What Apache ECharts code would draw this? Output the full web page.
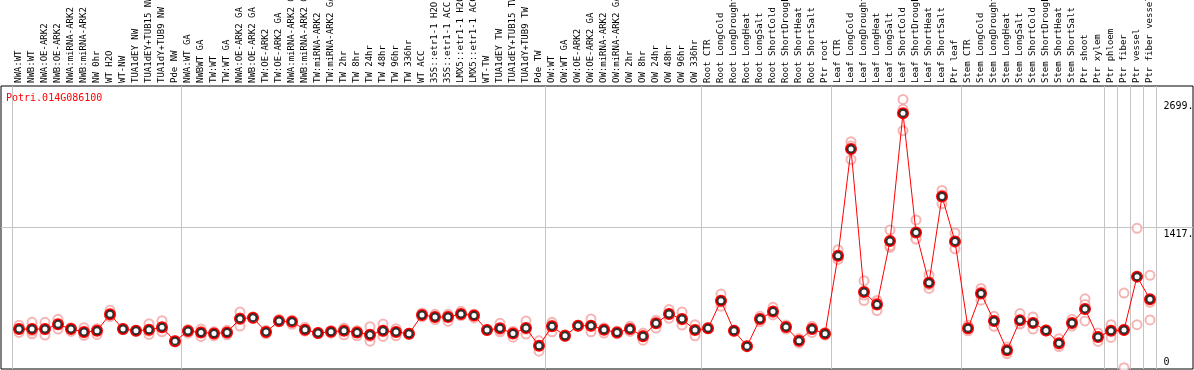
<!DOCTYPE html>
<html lang="en">
<head>
<meta charset="UTF-8">
<title>Potri.014G086100</title>
<style>
  html, body { margin: 0; padding: 0; background: #fff; }
  #chart { width: 1194px; height: 370px; }
</style>
</head>
<body>
<div id="chart"></div>
<script src="https://cdn.jsdelivr.net/npm/echarts@6/dist/echarts.min.js"></script>
<script>
  var geneName = 'Potri.014G086100'

  // sample names, in plot order
  var categories = [
    'NWA:WT', 'NWB:WT', 'NWA:OE-ARK2', 'NWB:OE-ARK2', 'NWA:miRNA-ARK2', 'NWB:miRNA-ARK2',
    'NW 0hr', 'WT H2O', 'WT-NW', 'TUA1dEY NW', 'TUA1dEY+TUB15 NW', 'TUA1dY+TUB9 NW', 'Pde NW',
    'NWA:WT GA', 'NWBWT GA', 'TW:WT', 'TW:WT GA', 'NWA:OE-ARK2 GA', 'NWB:OE-ARK2 GA',
    'TW:OE-ARK2', 'TW:OE-ARK2 GA', 'NWA:miRNA-ARK2 GA', 'NWB:miRNA-ARK2 GA', 'TW:miRNA-ARK2',
    'TW:miRNA-ARK2 GA', 'TW 2hr', 'TW 8hr', 'TW 24hr', 'TW 48hr', 'TW 96hr', 'TW 336hr',
    'WT ACC', '35S::etr1-1 H2O', '35S::etr1-1 ACC', 'LMX5::etr1-1 H2O', 'LMX5::etr1-1 ACC',
    'WT-TW', 'TUA1dEY TW', 'TUA1dEY+TUB15 TW', 'TUA1dY+TUB9 TW', 'Pde TW',
    'OW:WT', 'OW:WT GA', 'OW:OE-ARK2', 'OW:OE-ARK2 GA', 'OW:miRNA-ARK2', 'OW:miRNA-ARK2 GA',
    'OW 2hr', 'OW 8hr', 'OW 24hr', 'OW 48hr', 'OW 96hr', 'OW 336hr',
    'Root CTR', 'Root LongCold', 'Root LongDrought', 'Root LongHeat', 'Root LongSalt',
    'Root ShortCold', 'Root ShortDrought', 'Root ShortHeat', 'Root ShortSalt', 'Ptr root',
    'Leaf CTR', 'Leaf LongCold', 'Leaf LongDrought', 'Leaf LongHeat', 'Leaf LongSalt',
    'Leaf ShortCold', 'Leaf ShortDrought', 'Leaf ShortHeat', 'Leaf ShortSalt', 'Ptr leaf',
    'Stem CTR', 'Stem LongCold', 'Stem LongDrought', 'Stem LongHeat', 'Stem LongSalt',
    'Stem ShortCold', 'Stem ShortDrought', 'Stem ShortHeat', 'Stem ShortSalt', 'Ptr shoot', 'Ptr xylem',
    'Ptr phloem', 'Ptr fiber', 'Ptr vessel', 'Ptr fiber vessel'
  ]

  // mean expression per sample
  var meanValues = [
    400, 400, 400, 447, 400, 370, 383, 548, 400, 383, 393, 417, 279,
    380, 366, 356, 366, 504, 514, 370, 481, 474, 393, 360, 373, 383, 366, 343, 383, 370, 353,
    541, 521, 521, 551, 535, 390, 407, 356, 410, 232,
    427, 333, 434, 434, 393, 366, 400, 329, 457, 551, 501, 390,
    407, 683, 383, 229, 501, 575, 420, 282, 400, 353,
    1133, 2202, 770, 645, 1281, 2562, 1368, 864, 1728, 1278,
    407, 756, 481, 188, 487, 461, 386, 259, 461, 602, 320,
    383, 390, 925, 699
  ]

  // replicates
  var rep1 = [
    437, 467, 467, 497, 410, 413, 403, 588, 400, 383, 454, 484, 279,
    395, 400, 373, 366, 572, 514, 387, 497, 487, 417, 360, 386, 410, 383, 424, 450, 403, 353,
    561, 548, 548, 578, 548, 390, 457, 376, 481, 282,
    467, 343, 434, 501, 410, 380, 427, 360, 474, 595, 572, 444,
    407, 750, 383, 229, 528, 618, 440, 306, 427, 366,
    1193, 2276, 884, 686, 1392, 2699, 1493, 941, 1788, 1362,
    437, 807, 528, 188, 555, 521, 386, 303, 497, 703, 360,
    444, 760, 1409, 938
  ]
  var rep2 = [
    366, 353, 340, 400, 376, 336, 346, 528, 395, 378, 346, 395, 272,
    359, 326, 333, 343, 430, 508, 353, 471, 447, 380, 355, 360, 343, 333, 279, 326, 333, 348,
    521, 494, 477, 535, 511, 386, 373, 319, 350, 178,
    373, 326, 430, 373, 360, 353, 376, 289, 410, 508, 440, 333,
    402, 629, 378, 224, 474, 541, 400, 259, 366, 340,
    1109, 2098, 686, 585, 1217, 2387, 1311, 807, 1654, 1203,
    383, 689, 427, 155, 450, 400, 381, 225, 430, 645, 276,
    316, 13, 444, 491
  ]
  var rep3 = [
    400, 380, 393, 444, 414, 361, 400, 528, 405, 388, 379, 373, 286,
    386, 372, 362, 389, 510, 520, 370, 475, 488, 382, 365, 373, 396, 382, 326, 373, 374, 358,
    541, 521, 538, 540, 546, 394, 391, 373, 399, 236,
    441, 330, 438, 428, 409, 365, 397, 338, 487, 550, 491, 393,
    412, 670, 388, 234, 501, 566, 420, 281, 407, 353,
    1097, 2232, 740, 664, 1234, 2600, 1300, 844, 1742, 1269,
    401, 772, 488, 221, 456, 462, 391, 249, 456, 481, 324,
    389, 397, 922, 668
  ]

  // category index where each sample group starts (last one = right edge)
  var groupBounds = [0, 13, 41, 53, 63, 73, 84, 85, 86, 87, 88]
  var yLabelValues = [0, 1417, 2699]
  var yMax = 2834

  function drawChart() {
    var myChart = echarts.init(document.getElementById('chart'))

    var repPoints = []
    for (var i = 0; i < categories.length; i++) {
      repPoints.push([i, rep1[i]])
      repPoints.push([i, rep2[i]])
      repPoints.push([i, rep3[i]])
    }

    function atBound(index) {
      return groupBounds.indexOf(index) >= 0
    }

    var monoFont = 'DejaVu Sans Mono'
    var sepColor = '#c4c4c4'

    var option = {
      animation: false,
      backgroundColor: '#fff',
      title: {
        text: geneName,
        left: 6,
        top: 93,
        padding: 0,
        textStyle: { color: '#ff0000', fontSize: 10, fontWeight: 'normal', fontFamily: monoFont }
      },
      grid: [
        // outer frame
        {
          left: 1, right: 1, top: 86, bottom: 1, outerBoundsMode: 'none',
          show: true, borderColor: '#000', borderWidth: 1, backgroundColor: 'transparent'
        },
        // sample area
        { left: 12.5, right: 37.5, top: 86, bottom: 1, outerBoundsMode: 'none' }
      ],
      xAxis: [
        { gridIndex: 0, type: 'value', min: 0, max: 1, show: false },
        {
          gridIndex: 1,
          type: 'category',
          data: categories,
          position: 'top',
          boundaryGap: true,
          axisLine: { show: false },
          axisTick: { show: true, interval: atBound, length: 86, lineStyle: { color: sepColor } },
          splitLine: { show: true, interval: atBound, lineStyle: { color: sepColor } },
          axisLabel: {
            interval: 0,
            rotate: 90,
            margin: 3,
            hideOverlap: false,
            fontFamily: monoFont,
            fontSize: 9,
            color: '#000'
          }
        }
      ],
      yAxis: [
        {
          gridIndex: 0,
          type: 'value',
          min: 0,
          max: yMax,
          interval: yMax / 2,
          axisLine: { show: false },
          axisTick: { show: false },
          axisLabel: { show: false },
          splitLine: { show: true, showMinLine: false, showMaxLine: false, lineStyle: { color: sepColor } }
        },
        {
          gridIndex: 1,
          type: 'value',
          position: 'right',
          min: 0,
          max: yMax,
          axisLine: { show: false },
          axisTick: { show: false },
          splitLine: { show: false },
          axisLabel: {
            customValues: yLabelValues,
            formatter: function (v) { return v === 0 ? '0' : v + '.' },
            margin: 7,
            verticalAlign: 'top',
            verticalAlignMinLabel: 'bottom',
            lineHeight: 14,
            fontFamily: monoFont,
            fontSize: 10,
            color: '#000'
          }
        }
      ],
      series: [
        {
          name: 'replicates',
          type: 'scatter',
          xAxisIndex: 1,
          yAxisIndex: 1,
          data: repPoints,
          symbol: 'emptyCircle',
          symbolSize: 9,
          itemStyle: { color: '#f2a2a2', borderWidth: 1.2 },
          silent: true,
          z: 2
        },
        {
          name: 'mean',
          type: 'line',
          xAxisIndex: 1,
          yAxisIndex: 1,
          data: meanValues,
          symbol: 'emptyCircle',
          symbolSize: 10,
          showAllSymbol: true,
          lineStyle: { color: '#ff0000', width: 1 },
          itemStyle: { color: '#ff0000', borderWidth: 1.3 },
          z: 3
        },
        {
          name: 'mean core',
          type: 'scatter',
          xAxisIndex: 1,
          yAxisIndex: 1,
          data: meanValues,
          symbol: 'emptyCircle',
          symbolSize: 7,
          itemStyle: { color: '#000', borderWidth: 0.9 },
          silent: true,
          z: 4
        }
      ]
    }

    myChart.setOption(option)
  }
  drawChart()
</script>
</body>
</html>
